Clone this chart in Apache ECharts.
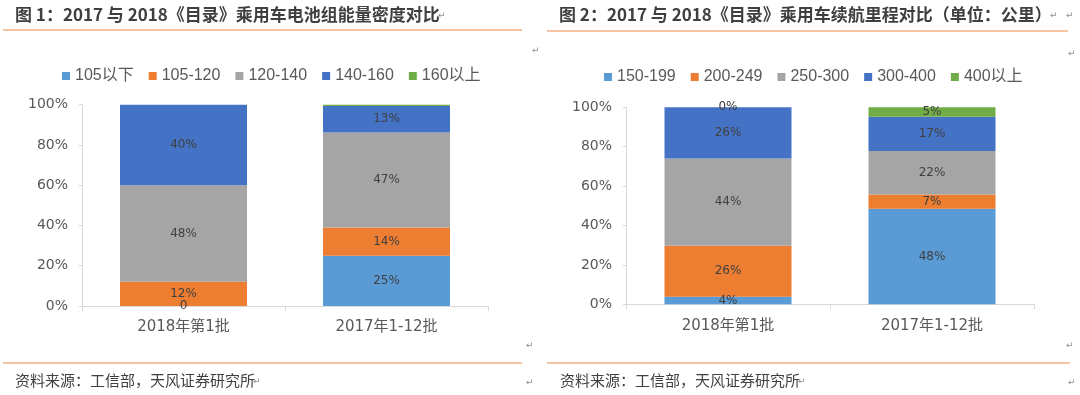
<!DOCTYPE html>
<html>
<head>
<meta charset="utf-8">
<script src="https://cdn.jsdelivr.net/npm/echarts@6/dist/echarts.min.js"></script>
<style>
html,body{margin:0;padding:0;background:#fff;}
#c{width:1080px;height:395px;}
</style>
</head>
<body>
<div id="c"></div>
<script>
// ---- Data ----
var categories = ['2018年第1批', '2017年1-12批'];
var yTicks = [0, 20, 40, 60, 80, 100];

// Figure 1: battery pack energy density
var leftNames = ['105以下', '105-120', '120-140', '140-160', '160以上'];
var left105Below = [0, 25.0];
var left105to120 = [12, 14.0];
var left120to140 = [48, 47.2];
var left140to160 = [40, 13.2];
var left160Above = [0, 0.6];
var leftLabel105Below = ['0', '25%'];
var leftLabel105to120 = ['12%', '14%'];
var leftLabel120to140 = ['48%', '47%'];
var leftLabel140to160 = ['40%', '13%'];
var leftLabel160Above = ['', ''];

// Figure 2: driving range
var rightNames = ['150-199', '200-249', '250-300', '300-400', '400以上'];
var right150to199 = [3.8, 48.5];
var right200to249 = [25.9, 7.2];
var right250to300 = [44.3, 22.1];
var right300to400 = [26.0, 17.4];
var right400Above = [0, 4.8];
var rightLabel150to199 = ['4%', '48%'];
var rightLabel200to249 = ['26%', '7%'];
var rightLabel250to300 = ['44%', '22%'];
var rightLabel300to400 = ['26%', '17%'];
var rightLabel400Above = ['0%', '5%'];

var titleLeft = '图 1：2017 与 2018《目录》乘用车电池组能量密度对比';
var titleRight = '图 2：2017 与 2018《目录》乘用车续航里程对比（单位：公里）';
var sourceText = '资料来源：工信部，天风证券研究所';

// ---- Styles ----
var colors = ['#5B9BD5', '#ED7D31', '#A5A5A5', '#4472C4', '#70AD47'];
var cjk = 'Noto Sans CJK SC';
var latin = '"Liberation Sans", "Noto Sans CJK SC", sans-serif';
var dv = '"DejaVu Sans", "Noto Sans CJK SC", sans-serif';

var leftValues = [left105Below, left105to120, left120to140, left140to160, left160Above];
var leftLabels = [leftLabel105Below, leftLabel105to120, leftLabel120to140, leftLabel140to160, leftLabel160Above];
var rightValues = [right150to199, right200to249, right250to300, right300to400, right400Above];
var rightLabels = [rightLabel150to199, rightLabel200to249, rightLabel250to300, rightLabel300to400, rightLabel400Above];

function makeSeries(names, values, labels, axisIdx, stackName) {
  return names.map(function (n, i) {
    return {
      name: n,
      type: 'bar',
      stack: stackName,
      xAxisIndex: axisIdx,
      yAxisIndex: axisIdx,
      barWidth: 127,
      itemStyle: { color: colors[i] },
      label: {
        show: true,
        position: 'inside',
        fontFamily: dv,
        fontSize: 12,
        color: '#404040',
        formatter: function (p) { return labels[i][p.dataIndex]; }
      },
      emphasis: { disabled: true },
      data: values[i]
    };
  });
}

function yAxis(gridIdx) {
  return {
    type: 'value', gridIndex: gridIdx, min: 0, max: 100, interval: 20,
    axisLine: { show: true, lineStyle: { color: '#D9D9D9', width: 1 } },
    axisTick: { show: true, length: 3, lineStyle: { color: '#D9D9D9' } },
    splitLine: { show: false },
    axisLabel: { formatter: '{value}%', fontFamily: dv, fontSize: 14, color: '#595959', margin: 14 }
  };
}
function xAxis(gridIdx) {
  return {
    type: 'category', gridIndex: gridIdx, data: categories,
    axisLine: { show: true, lineStyle: { color: '#D9D9D9', width: 1 } },
    axisTick: { show: true, length: 5, lineStyle: { color: '#D9D9D9' } },
    axisLabel: { fontFamily: dv, fontSize: 15, color: '#595959', margin: 14 }
  };
}

function retMark(x, y) {
  return { type: 'text', left: x, top: y, style: { text: '↵', fontSize: 9, fill: '#8C8C8C', fontFamily: dv } };
}

var chart = echarts.init(document.getElementById('c'), null, { renderer: 'canvas' });
chart.setOption({
  animation: false,
  legend: [
    {
      data: leftNames, left: 57, top: 63, itemWidth: 8, itemHeight: 8, itemGap: 15,
      icon: 'rect',
      textStyle: { fontFamily: latin, fontSize: 16, color: '#595959' }
    },
    {
      data: rightNames, left: 599, top: 64, itemWidth: 8, itemHeight: 8, itemGap: 15,
      icon: 'rect',
      textStyle: { fontFamily: latin, fontSize: 16, color: '#595959' }
    }
  ],
  grid: [
    { left: 82, top: 104.7, width: 406, height: 201.3, containLabel: false },
    { left: 626, top: 107.3, width: 408, height: 197, containLabel: false }
  ],
  xAxis: [xAxis(0), xAxis(1)],
  yAxis: [yAxis(0), yAxis(1)],
  series: makeSeries(leftNames, leftValues, leftLabels, 0, 'L')
    .concat(makeSeries(rightNames, rightValues, rightLabels, 1, 'R')),
  graphic: [
    { type: 'text', left: 15, top: 6, style: { text: titleLeft, font: 'bold 17px "Noto Sans CJK SC"', fill: '#3F3F3F' } },
    { type: 'text', left: 559, top: 6, style: { text: titleRight, font: 'bold 17px "Noto Sans CJK SC"', fill: '#3F3F3F' } },
    { type: 'line', shape: { x1: 3, y1: 30, x2: 522, y2: 30 }, style: { stroke: '#F4B183', lineWidth: 1.5 } },
    { type: 'line', shape: { x1: 547, y1: 31, x2: 1068, y2: 31 }, style: { stroke: '#F4B183', lineWidth: 1.5 } },
    { type: 'line', shape: { x1: 3, y1: 363, x2: 522, y2: 363 }, style: { stroke: '#F4B183', lineWidth: 1.5 } },
    { type: 'line', shape: { x1: 547, y1: 363, x2: 1070, y2: 363 }, style: { stroke: '#F4B183', lineWidth: 1.5 } },
    { type: 'text', left: 15, top: 373, style: { text: sourceText, font: '15px "Noto Sans CJK SC"', fill: '#404040' } },
    { type: 'text', left: 560, top: 373, style: { text: sourceText, font: '15px "Noto Sans CJK SC"', fill: '#404040' } },
    retMark(438, 11), retMark(532, 46),
    retMark(1050, 11), retMark(1066, 11), retMark(1068, 49),
    retMark(526, 341), retMark(1066, 341),
    retMark(253, 377), retMark(526, 378), retMark(798, 377), retMark(1068, 378)
  ]
});
</script>
</body>
</html>
